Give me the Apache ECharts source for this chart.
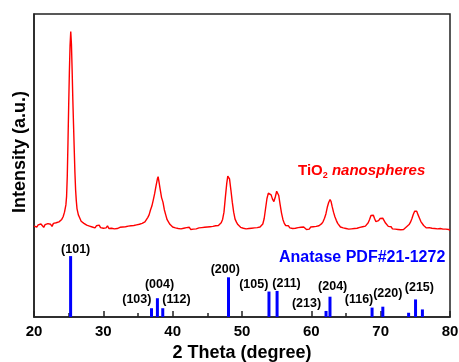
<!DOCTYPE html>
<html>
<head>
<meta charset="utf-8">
<script src="https://cdn.jsdelivr.net/npm/echarts@6/dist/echarts.min.js"></script>
<style>
  html, body { margin: 0; padding: 0; background: #fff; }
  #xrd { width: 459px; height: 362px; }
</style>
</head>
<body>
<div id="xrd"></div>
<script>
/* XRD pattern of TiO2 nanospheres + anatase reference sticks */

// measured pattern: [2theta, intensity]
var xrdPattern = [
  [20.0,300],[20.2,306],[20.4,297],[20.6,304],[20.8,299],[21.0,307],[21.2,301],[21.4,296],[21.6,305],[21.8,300],
  [22.0,308],[22.2,302],[22.4,306],[22.6,299],[22.8,309],[23.0,304],[23.2,311],[23.4,306],[23.6,314],[23.8,317],
  [24.0,322],[24.2,331],[24.4,346],[24.6,370],[24.7,398],[24.8,465],[24.9,575],[25.0,695],[25.1,805],[25.2,895],
  [25.3,942],[25.4,900],[25.5,815],[25.6,718],[25.7,636],[25.8,556],[25.9,478],[26.0,420],[26.1,384],[26.2,358],
  [26.4,337],[26.6,327],[26.8,316],[27.0,319],[27.2,309],[27.4,312],[27.6,303],[27.8,308],
  [28.0,300],[28.2,305],[28.4,297],[28.6,302],[28.8,294],[29.0,301],[29.2,296],[29.4,303],[29.6,295],[29.8,300],
  [30.0,293],[30.2,299],[30.4,294],[30.6,301],[30.8,292],[31.0,298],[31.2,293],[31.4,299],[31.6,291],[31.8,297],
  [32.0,292],[32.2,289],[32.4,296],[32.6,290],[32.8,297],[33.0,291],[33.2,298],[33.4,293],[33.6,300],[33.8,295],
  [34.0,301],[34.2,296],[34.4,302],[34.6,298],[34.8,304],[35.0,299],[35.2,306],[35.4,302],
  [35.6,309],[35.8,307],[36.0,314],[36.2,318],[36.4,328],[36.6,337],[36.8,353],[37.0,366],[37.2,386],[37.4,407],
  [37.6,433],[37.8,456],[37.9,463],[38.0,450],[38.2,421],[38.4,394],[38.6,379],[38.8,354],[39.0,337],[39.2,321],
  [39.4,316],[39.6,306],[39.8,304],
  [40.0,297],[40.2,302],[40.4,294],[40.6,299],[40.8,292],[41.0,298],[41.2,291],[41.4,297],[41.6,293],[41.8,288],
  [42.0,295],[42.2,290],[42.4,296],[42.6,289],[42.8,294],[43.0,290],[43.2,296],[43.4,291],[43.6,287],[43.8,294],
  [44.0,289],[44.2,295],[44.4,290],[44.6,296],[44.8,291],[45.0,297],[45.2,292],[45.4,298],[45.6,293],[45.8,299],
  [46.0,294],[46.2,301],[46.4,296],[46.6,302],
  [46.8,305],[47.0,311],[47.2,322],[47.4,346],[47.6,395],[47.8,441],[47.95,465],[48.05,471],[48.2,456],[48.4,419],
  [48.6,379],[48.8,346],[49.0,323],[49.2,313],[49.4,305],[49.6,301],
  [49.8,296],[50.0,300],[50.2,293],[50.4,298],[50.6,291],[50.8,297],[51.0,292],[51.2,298],[51.4,293],[51.6,299],
  [51.8,294],[52.0,300],[52.2,295],[52.4,301],[52.6,297],[52.8,303],
  [53.0,307],[53.2,325],[53.4,358],[53.6,391],[53.8,409],[54.0,414],[54.2,403],[54.4,389],[54.6,381],[54.8,396],
  [55.0,415],[55.1,419],[55.3,401],[55.5,371],[55.7,343],[55.9,322],[56.1,309],[56.3,302],
  [56.5,297],[56.7,301],[56.9,294],[57.1,299],[57.3,292],[57.5,298],[57.7,293],[57.9,288],[58.1,295],[58.3,290],
  [58.5,296],[58.7,291],[58.9,297],[59.1,292],[59.3,289],[59.5,295],[59.7,290],[59.9,297],[60.1,292],[60.3,298],
  [60.5,293],[60.7,299],[60.9,295],[61.1,301],
  [61.3,303],[61.5,308],[61.7,315],[61.9,326],[62.1,340],[62.3,362],[62.5,378],[62.7,388],[62.85,381],[63.0,365],
  [63.2,346],[63.4,331],[63.6,319],[63.8,309],[64.0,303],
  [64.2,297],[64.4,301],[64.6,294],[64.8,299],[65.0,292],[65.2,297],[65.4,290],[65.6,296],[65.8,291],[66.0,297],
  [66.2,292],[66.4,298],[66.6,293],[66.8,290],[67.0,296],[67.2,291],[67.4,298],[67.6,294],[67.8,300],
  [68.0,304],[68.2,311],[68.4,322],[68.6,335],[68.8,340],[68.95,336],[69.1,326],[69.3,315],[69.5,311],[69.7,318],
  [69.9,325],[70.1,329],[70.3,326],[70.5,318],[70.7,310],[70.9,304],[71.1,299],
  [71.3,294],[71.5,298],[71.7,291],[71.9,296],[72.1,290],[72.3,295],[72.5,289],[72.7,294],[72.9,288],[73.1,293],
  [73.3,289],[73.5,295],[73.7,297],
  [73.9,301],[74.1,305],[74.3,313],[74.5,324],[74.7,338],[74.9,349],[75.05,353],[75.2,349],[75.4,337],[75.6,326],
  [75.8,315],[76.0,309],[76.2,302],[76.4,299],[76.6,294],
  [76.8,290],[77.0,295],[77.2,289],[77.4,293],[77.6,287],[77.8,292],[78.0,286],[78.2,291],[78.4,287],[78.6,292],
  [78.8,286],[79.0,290],[79.2,285],[79.4,290],[79.6,286],[79.8,289],[80.0,286]
];

// anatase PDF#21-1272 reference lines
var stickPos  = [25.28, 36.95, 37.80, 38.57, 48.05, 53.89, 55.06, 62.12, 62.69, 68.76, 70.31, 74.03, 75.03, 76.02];
var stickHigh = [201, 29, 62, 29, 131, 84, 86, 20, 67, 31, 34, 14, 58, 25];

// hkl labels and where they sit (data units)
var hklText = ['(101)', '(103)', '(004)', '(112)', '(200)', '(105)', '(211)', '(213)', '(204)', '(116)', '(220)', '(215)'];
var hklX    = [26.01, 34.83, 38.10, 40.55, 47.59, 51.69, 56.42, 59.30, 63.08, 66.88, 71.02, 75.58];
var hklY    = [221, 56, 108, 56, 157, 108, 109, 43, 102, 56, 78, 97];

var xTicks = [20, 30, 40, 50, 60, 70, 80];

var fontName = 'Liberation Sans, Arial, sans-serif';

var sticks = stickPos.map(function (p, i) { return [p, stickHigh[i]]; });
var hklData = hklText.map(function (t, i) { return { name: t, value: [hklX[i], hklY[i]] }; });

var chart = echarts.init(document.getElementById('xrd'));
chart.setOption({
    animation: false,
    backgroundColor: '#fff',
    grid: {
        left: 34, right: 9, top: 14, bottom: 45,
        outerBoundsMode: 'none',
        containLabel: false,
        show: true, borderColor: '#222', borderWidth: 1.5
    },
    xAxis: {
        type: 'value',
        min: xTicks[0], max: xTicks[xTicks.length - 1], interval: 10,
        name: '2 Theta (degree)',
        nameLocation: 'middle',
        nameGap: 27,
        nameTextStyle: { fontFamily: fontName, fontWeight: 'bold', fontSize: 18, color: '#000' },
        axisLine: { lineStyle: { color: '#222', width: 1.5 } },
        axisTick: { inside: true, length: 6, lineStyle: { color: '#222', width: 1.5 } },
        minorTick: { show: true, splitNumber: 2, length: 4, lineStyle: { color: '#222', width: 1.5 } },
        splitLine: { show: false },
        axisLabel: { margin: 7, fontFamily: fontName, fontWeight: 'bold', fontSize: 15, color: '#000' }
    },
    yAxis: {
        type: 'value', min: 0, max: 1000,
        axisLine: { show: true, lineStyle: { color: '#222', width: 1.5 } },
        axisTick: { show: false },
        axisLabel: { show: false },
        splitLine: { show: false }
    },
    graphic: [
        {
            type: 'text', x: 20, y: 152, rotation: Math.PI / 2,
            style: {
                text: 'Intensity (a.u.)', align: 'center', verticalAlign: 'middle',
                font: 'bold 18px ' + fontName, fill: '#000'
            }
        },
        {
            type: 'text', left: 298, top: 163,
            style: {
                text: '{a|TiO}{s|2}{b| nanospheres}',
                rich: {
                    a: { fontFamily: fontName, fontWeight: 'bold', fontSize: 15, lineHeight: 20, fill: '#ff0000' },
                    s: { fontFamily: fontName, fontWeight: 'bold', fontSize: 9, lineHeight: 9, verticalAlign: 'bottom', fill: '#ff0000' },
                    b: { fontFamily: fontName, fontWeight: 'bold', fontStyle: 'italic', fontSize: 15, lineHeight: 20, fill: '#ff0000' }
                }
            }
        },
        {
            type: 'text', left: 279, top: 250,
            style: {
                text: 'Anatase PDF#21-1272',
                font: 'bold 16px ' + fontName, fill: '#0000ff'
            }
        }
    ],
    series: [
        {
            type: 'line',
            data: xrdPattern,
            showSymbol: false,
            symbol: 'none',
            lineStyle: { color: '#ff0000', width: 1.4 },
            z: 3
        },
        {
            type: 'custom',
            data: sticks,
            renderItem: function (params, api) {
                var top = api.coord([api.value(0), api.value(1)]);
                var bot = api.coord([api.value(0), 0]);
                return {
                    type: 'rect',
                    shape: { x: top[0] - 1.5, y: top[1], width: 3, height: bot[1] - top[1] },
                    style: { fill: '#0000ff' }
                };
            },
            z: 4
        },
        {
            type: 'scatter',
            data: hklData,
            symbolSize: 0,
            itemStyle: { opacity: 1 },
            label: {
                show: true, position: 'inside',
                formatter: function (p) { return p.name; },
                fontFamily: fontName, fontWeight: 'bold', fontSize: 12.5, color: '#000'
            },
            z: 5
        }
    ]
});
</script>
</body>
</html>
